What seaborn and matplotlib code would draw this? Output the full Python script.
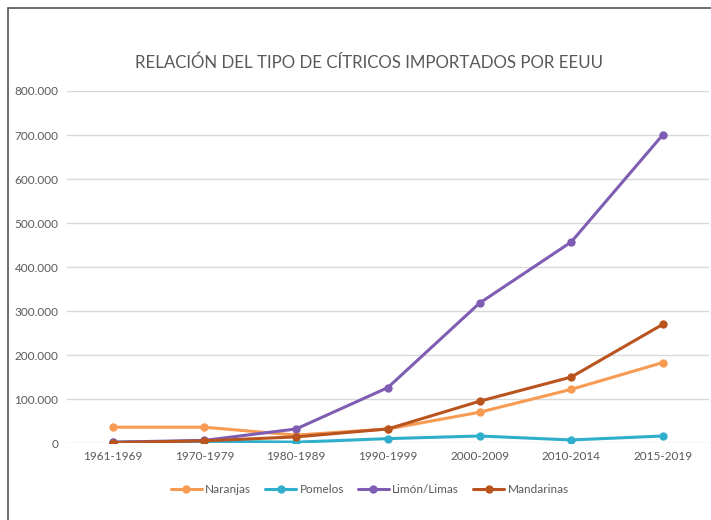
import pandas as pd
import seaborn as sns
import matplotlib.pyplot as plt
import matplotlib.patches as patches
from matplotlib.ticker import FuncFormatter

# datos
periodos = ['1961-1969', '1970-1979', '1980-1989', '1990-1999', '2000-2009', '2010-2014', '2015-2019']
naranjas = [36000, 36000, 18000, 32000, 70000, 122000, 183000]
pomelos = [2000, 4000, 2000, 10000, 16000, 7000, 16000]
limones = [2000, 6000, 32000, 126000, 318000, 457000, 701000]
mandarinas = [1000, 5000, 14000, 32000, 95000, 150000, 270000]
series = ['Naranjas', 'Pomelos', 'Limón/Limas', 'Mandarinas']
colores = ['#F79A52', '#2FAFCB', '#7E5DB3', '#B9541F']

df = pd.DataFrame({
    'periodo': periodos * 4,
    'valor': naranjas + pomelos + limones + mandarinas,
    'serie': [s for s in series for _ in periodos],
})

sns.set_style('white')
plt.rcParams['font.family'] = ['Lato', 'DejaVu Sans']

fig = plt.figure(figsize=(7.11, 5.2), dpi=100)
ax = fig.add_axes([0.094, 0.148, 0.903, 0.677])

sns.lineplot(data=df, x='periodo', y='valor', hue='serie', hue_order=series,
             palette=colores, marker='o', markersize=6, markeredgewidth=0,
             linewidth=2.2, ax=ax, sort=False)

ax.set_xlim(-0.5, 6.5)
ax.set_ylim(0, 800000)
ax.set_yticks(range(0, 800001, 100000))
ax.yaxis.set_major_formatter(FuncFormatter(lambda v, p: f'{int(v):,}'.replace(',', '.')))
ax.grid(axis='y', color='#D9D9D9', lw=1)
ax.set_axisbelow(True)
for s in ax.spines.values():
    s.set_visible(False)
ax.tick_params(axis='both', length=0, labelsize=8.5, labelcolor='#595959', pad=6)
ax.set_xlabel('')
ax.set_ylabel('')

fig.text(0.519, 0.88, 'RELACIÓN DEL TIPO DE CÍTRICOS IMPORTADOS POR EEUU',
         ha='center', va='center', fontsize=12.2, color='#595959')

ax.legend(ncol=4, loc='center', bbox_to_anchor=(0.52, 0.058),
          bbox_transform=fig.transFigure, frameon=False, fontsize=8.5,
          handlelength=2.6, columnspacing=1.2, handletextpad=0.3,
          labelcolor='#595959')

# marco exterior
fig.patches.append(patches.Rectangle((8 / 711, -0.1), 1.2, 1.1 - 8 / 520,
                                     transform=fig.transFigure, fill=False,
                                     edgecolor='#555555', lw=1.2))

fig.savefig('out.png', dpi=100)
